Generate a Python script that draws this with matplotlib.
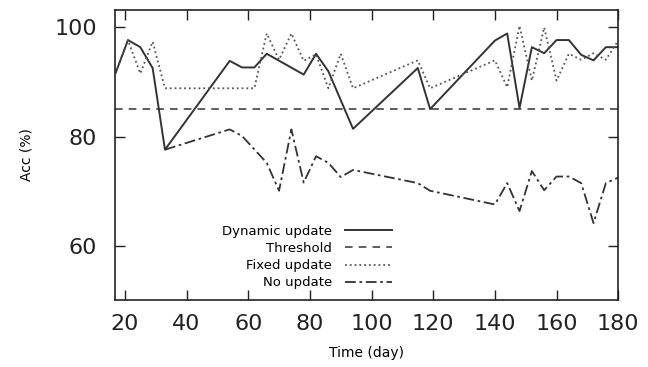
import matplotlib
matplotlib.use("Agg")
import matplotlib.pyplot as plt

# ── Données ───────────────────────────────────────────────────────────────────
dyn_days = [17, 21, 25, 29, 33, 54, 58, 62, 66, 78, 82, 86, 94, 115, 119,
            140, 144, 148, 152, 156, 160, 164, 168, 172, 176, 180]
dyn_acc = [91.6, 97.6, 96.3, 92.5, 77.6, 93.8, 92.6, 92.6, 95.1, 91.3, 95.1,
           91.9, 81.4, 92.5, 85.0, 97.5, 98.8, 85.2, 96.3, 95.2, 97.6, 97.6,
           94.9, 93.9, 96.3, 96.3]

fix_days = [17, 21, 25, 29, 33, 62, 66, 70, 74, 78, 82, 86, 90, 94, 115, 119,
            140, 144, 148, 152, 156, 160, 164, 168, 172, 176, 180]
fix_acc = [91.6, 97.6, 91.5, 97.3, 88.8, 88.8, 98.8, 94.0, 98.8, 93.8, 95.0,
           88.8, 95.1, 88.8, 93.9, 88.8, 93.9, 89.0, 100.2, 90.2, 99.9, 90.2,
           95.1, 94.0, 95.2, 94.0, 97.5]

noup_days = [33, 54, 58, 66, 70, 74, 78, 82, 86, 90, 94, 115, 119, 140, 144,
             148, 152, 156, 160, 164, 168, 172, 176, 180]
noup_acc = [77.6, 81.3, 80.1, 75.2, 70.1, 81.3, 71.6, 76.4, 75.2, 72.6, 73.9,
            71.5, 70.1, 67.6, 71.5, 66.4, 73.7, 70.2, 72.7, 72.7, 71.5, 64.2,
            71.5, 72.5]

THRESHOLD = 85
x_ticks = [20, 40, 60, 80, 100, 120, 140, 160, 180]
y_ticks = [60, 80, 100]

# ── Figure ────────────────────────────────────────────────────────────────────
fig = plt.figure(figsize=(6.48, 3.67), dpi=100)
ax = fig.add_axes([0.1775, 0.183, 0.7765, 0.790])

col = '#333333'
ax.plot(dyn_days, dyn_acc, '-', color=col, lw=1.4, label='Dynamic update')
ax.axhline(THRESHOLD, color=col, lw=1.1, ls=(0, (5, 4)), label='Threshold')
ax.plot(fix_days, fix_acc, ':', color='#555555', lw=1.3, label='Fixed update')
ax.plot(noup_days, noup_acc, color=col, lw=1.3, ls=(0, (6, 2, 1.5, 2)),
        label='No update')

ax.set_xlim(16.8, 180)
ax.set_ylim(50.2, 103.1)
ax.set_xticks(x_ticks)
ax.set_yticks(y_ticks)
ax.tick_params(direction='in', length=7, width=1, labelsize=16,
               top=True, right=True, colors='#222222')
ax.tick_params(axis='x', pad=10)
ax.tick_params(axis='y', pad=13)
for s in ax.spines.values():
    s.set_linewidth(1.2)
    s.set_color('#222222')

ax.set_xlabel("Time (day)", fontsize=10, labelpad=9)
ax.set_ylabel("Acc (%)", fontsize=10, labelpad=15)

ax.legend(loc='lower right', bbox_to_anchor=(0.575, -0.005), frameon=False,
          markerfirst=False, fontsize=9.5, handlelength=3.6,
          labelspacing=0.32, handletextpad=1.0)

fig.savefig("out.png", dpi=100)
